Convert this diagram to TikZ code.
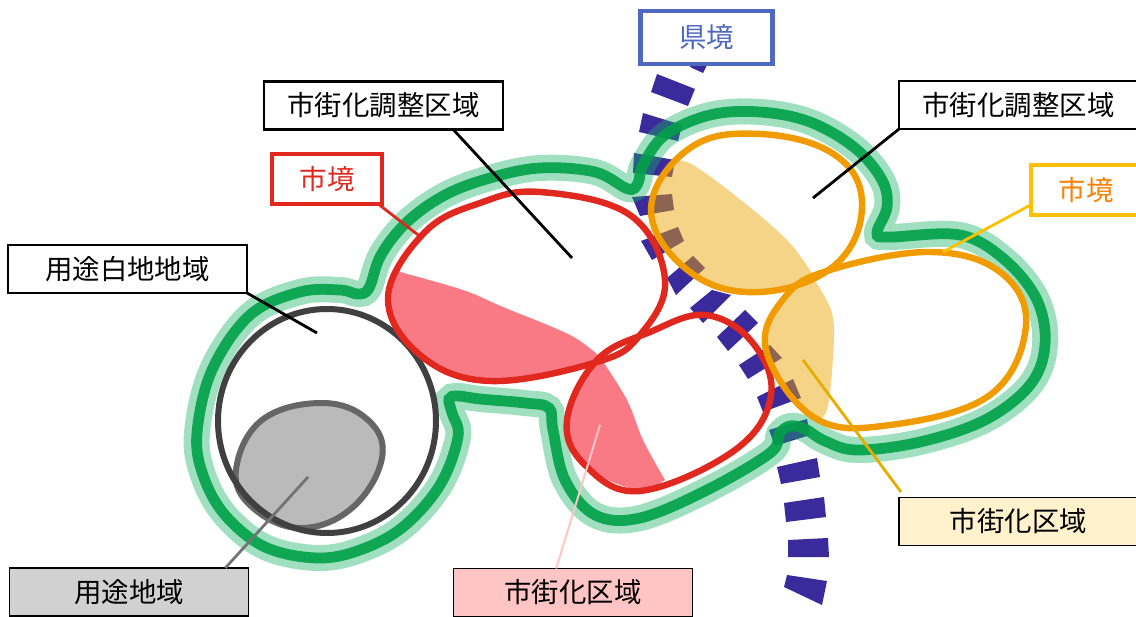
\documentclass[tikz,border=0pt]{standalone}
\usepackage{fontspec}
\setmainfont{Noto Sans CJK JP}
\usepackage{tikz}
\definecolor{halogreen}{RGB}{17,178,97}
\definecolor{linegreen}{RGB}{0,160,72}
\definecolor{ken}{RGB}{58,42,156}
\definecolor{kenbox}{RGB}{79,105,192}
\definecolor{redline}{RGB}{224,40,30}
\definecolor{redfill}{RGB}{249,122,133}
\definecolor{oranline}{RGB}{240,156,0}
\definecolor{oranfill}{RGB}{236,164,0}
\definecolor{yelline}{RGB}{255,192,0}
\definecolor{yelbox}{RGB}{255,242,204}
\definecolor{pinkbox}{RGB}{255,197,197}
\tikzset{
  x=0.25mm,y=-0.25mm,
  labelbox/.style={draw=black,line width=0.7mm,fill=white,inner sep=0pt,outer sep=0pt,
    minimum width=59.75mm,minimum height=12mm,font=\fontsize{19.5}{24}\selectfont},
  smallbox/.style={labelbox,minimum width=27.5mm,minimum height=12.5mm},
  thinbox/.style={labelbox,line width=0.35mm},
  leader/.style={line width=0.7mm},
  redcurve/.style={draw=redline,line width=1.6mm},
  orancurve/.style={draw=oranline,line width=1.6mm},
  kendash/.style={fill=ken}
}
\begin{document}
\begin{tikzpicture}
\useasboundingbox (0,0) rectangle (1136,617);
% prefectural border
\fill[kendash] (688,65) -- (707,65) -- (703,73) -- (692,68) -- cycle;
\fill[kendash] (657,74) -- (695,89) -- (688,106) -- (651,92) -- cycle;
\fill[kendash] (643,113) -- (682,125) -- (678,141) -- (639,132) -- cycle;
\fill[kendash] (634,153) -- (675,160) -- (672,177) -- (633,173) -- cycle;
\fill[kendash] (632,197) -- (672,194) -- (674,210) -- (640,216) -- cycle;
\fill[kendash] (641,241) -- (678,227) -- (684,241) -- (652,260) -- cycle;
\fill[kendash] (667,278) -- (693,256) -- (705,268) -- (676,295) -- cycle;
\fill[kendash] (690,308) -- (712,290) -- (731,295) -- (703,323) -- cycle;
\fill[kendash] (717,337) -- (745,310) -- (758,323) -- (728,351) -- cycle;
\fill[kendash] (739,365) -- (770,345) -- (782,358) -- (748,379) -- cycle;
\fill[kendash] (757,397) -- (793,379) -- (801,398) -- (763,412) -- cycle;
\fill[kendash] (769,430) -- (807,419) -- (810,435) -- (775,446) -- cycle;
\fill[kendash] (777,467) -- (817,458) -- (820,477) -- (781,484) -- cycle;
\fill[kendash] (784,503) -- (824,497) -- (826,517) -- (786,522) -- cycle;
\fill[kendash] (788,540) -- (828,538) -- (829,557) -- (788,557) -- cycle;
\fill[kendash] (787,575) -- (827,581) -- (822,605) -- (784,587) -- cycle;
% planning area
\def\planarea{(197,433) (212,370) (250,315) (300,292) (340,290) (358,294) (369,288) (381,255) (407,222) (445,195) (490,178) (540,168) (595,172) (628,189) (638,183) (643,165) (665,135) (710,115) (760,112) (810,122) (855,148) (882,180) (887,207) (877,233) (890,237) (960,235) (1005,260) (1037,300) (1045,345) (1030,385) (985,420) (920,442) (857,450) (825,441) (805,429) (790,426) (779,434) (770,453) (707,490) (640,518) (595,515) (565,480) (553,430) (549,408) (525,403) (480,399) (458,396) (449,399) (452,413) (458,437) (440,485) (403,527) (360,550) (317,558) (265,547) (225,515) (203,475)}
\draw[halogreen,opacity=0.4,line width=6.5mm] plot[smooth cycle,tension=0.6] coordinates {\planarea};
\draw[linegreen,opacity=0.9,line width=2.7mm] plot[smooth cycle,tension=0.6] coordinates {\planarea};
% yoto area
\filldraw[fill=black!27,draw=black!60,line width=1.5mm] plot[smooth cycle,tension=0.68] coordinates {(322,403) (368,420) (382,458) (352,508) (300,528) (252,507) (236,470) (262,420)};
\draw[black!75,line width=1.5mm] (327,421) ellipse [x radius=109,y radius=112];
% red city
\fill[redfill] plot[smooth,tension=0.6] coordinates {(400,272) (463,290) (503,307) (570,335) (600,357)} -- plot[smooth,tension=0.65] coordinates {(597,362) (490,381) (420,355) (388,297) (400,265)} -- cycle;
\fill[redfill] plot[smooth,tension=0.6] coordinates {(600,357) (627,400) (643,440) (665,480)} -- plot[smooth,tension=0.65] coordinates {(645,493) (587,468) (567,420) (597,360)} -- cycle;
\draw[redcurve] plot[smooth cycle,tension=0.65] coordinates {(388,297) (425,232) (480,203) (540,192) (630,215) (665,280) (640,335) (597,362) (490,381) (420,355)};
\draw[redcurve] plot[smooth cycle,tension=0.65] coordinates {(597,360) (650,332) (705,315) (752,342) (771,395) (735,450) (640,491) (585,465) (567,420)};
% orange city
\fill[oranfill,opacity=0.47] plot[smooth,tension=0.6] coordinates {(673,160) (693,165) (737,197) (787,240) (813,275)} -- plot[smooth,tension=0.68] coordinates {(813,280) (760,292) (690,272) (651,210) (673,160)} -- cycle;
\fill[oranfill,opacity=0.47] plot[smooth,tension=0.6] coordinates {(813,278) (832,313) (833,357) (827,410) (815,420)} -- plot[smooth,tension=0.65] coordinates {(815,418) (766,350) (785,297) (813,278)} -- cycle;
\draw[orancurve] plot[smooth cycle,tension=0.68] coordinates {(760,134) (835,155) (862,205) (835,265) (760,292) (690,272) (651,210) (690,148)};
\draw[orancurve] plot[smooth cycle,tension=0.65] coordinates {(830,270) (930,252) (1000,272) (1026,325) (990,395) (890,425) (815,418) (766,350) (785,297)};
% labels
\node[smallbox,draw=kenbox,text=kenbox,line width=1.1mm,minimum width=33mm,minimum height=13.25mm] (kenkyo) at (706.5,37.5) {県境};
\node[labelbox] (tyoseiL) at (383.5,105.5) {市街化調整区域};
\node[labelbox] (tyoseiR) at (1018.5,105) {市街化調整区域};
\node[smallbox,draw=redline,text=redline,line width=1.1mm] (sikyoL) at (327,179) {市境};
\node[smallbox,draw=yelline,text=orange,line width=1.1mm] (sikyoR) at (1086,190) {市境};
\node[labelbox] (hakuti) at (127.5,269) {用途白地地域};
\node[thinbox,fill=black!18] (yoto) at (129,592) {用途地域};
\node[thinbox,fill=pinkbox] (kuikiL) at (573,592.5) {市街化区域};
\node[thinbox,fill=yelbox] (kuikiR) at (1018.5,521.5) {市街化区域};
% leaders
\coordinate (ptTyoseiL) at (572,258);
\coordinate (ptTyoseiR) at (813,198);
\coordinate (ptHakuti) at (317,333);
\coordinate (ptSikyoL) at (422,238);
\coordinate (ptSikyoR) at (943,252);
\coordinate (ptYoto) at (308,477);
\coordinate (ptKuikiL) at (600,425);
\coordinate (ptKuikiR) at (803,360);
\coordinate (ptKuikiRb) at (901,492);
\draw[leader] (tyoseiL.-19) -- (ptTyoseiL);
\draw[leader] (tyoseiR.south west) -- (ptTyoseiR);
\draw[leader] (hakuti.south east) -- (ptHakuti);
\draw[leader,redline] (sikyoL.-26) -- (ptSikyoL);
\draw[leader,yelline] (sikyoR.195) -- (ptSikyoR);
\draw[leader,black!55] (yoto.14.5) -- (ptYoto);
\draw[leader,pinkbox,line width=0.5mm] (kuikiL.125) -- (ptKuikiL);
\draw[leader,yelline!90!black] (ptKuikiRb) -- (ptKuikiR);
\end{tikzpicture}
\end{document}
